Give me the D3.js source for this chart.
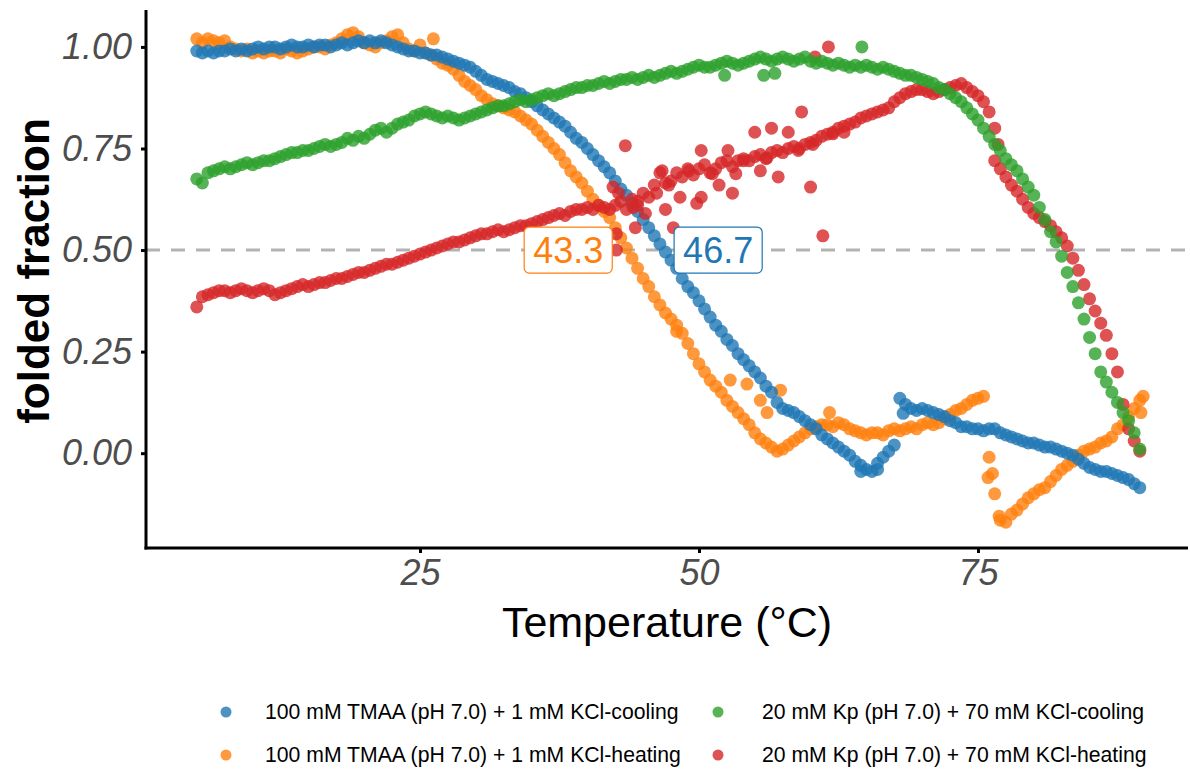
<!DOCTYPE html>
<meta charset="utf-8">
<title>Folded fraction vs temperature</title>
<style>
body { margin: 0; background: #fff; }
text { font-family: "Liberation Sans", Arial, sans-serif; }
.axis .domain { display: none; }
.axis line { stroke: #000; stroke-width: 3px; }
.axis text { fill: #4d4d4d; font-style: italic; font-size: 36px; }
.frame { stroke: #000; stroke-width: 3px; }
</style>
<script src="https://d3js.org/d3.v7.min.js"></script>
<body>
<script>
var width = 1190;
var height = 773;

// temperatures (°C), one reading every 0.5 degree
var temps = [
  5,5.5,6,6.5,7,7.5,8,8.5,9,9.5,
  10,10.5,11,11.5,12,12.5,13,13.5,14,14.5,
  15,15.5,16,16.5,17,17.5,18,18.5,19,19.5,
  20,20.5,21,21.5,22,22.5,23,23.5,24,24.5,
  25,25.5,26,26.5,27,27.5,28,28.5,29,29.5,
  30,30.5,31,31.5,32,32.5,33,33.5,34,34.5,
  35,35.5,36,36.5,37,37.5,38,38.5,39,39.5,
  40,40.5,41,41.5,42,42.5,43,43.5,44,44.5,
  45,45.5,46,46.5,47,47.5,48,48.5,49,49.5,
  50,50.5,51,51.5,52,52.5,53,53.5,54,54.5,
  55,55.5,56,56.5,57,57.5,58,58.5,59,59.5,
  60,60.5,61,61.5,62,62.5,63,63.5,64,64.5,
  65,65.5,66,66.5,67,67.5,68,68.5,69,69.5,
  70,70.5,71,71.5,72,72.5,73,73.5,74,74.5,
  75,75.5,76,76.5,77,77.5,78,78.5,79,79.5,
  80,80.5,81,81.5,82,82.5,83,83.5,84,84.5,
  85,85.5,86,86.5,87,87.5,88,88.5,89,89.5
];

// folded fraction, 100 mM TMAA + 1 mM KCl, cooling
var tmaaCooling = [
  0.99,0.985,0.99,0.985,0.99,0.99,0.995,0.99,0.995,0.99,
  0.995,1.0,0.995,1.0,1.0,0.995,1.0,1.005,1.0,1.0,
  1.005,1.0,1.005,1.005,1.0,1.005,1.01,1.005,1.01,1.015,
  1.01,1.015,1.01,1.015,1.01,1.005,1.0,0.995,0.99,0.99,
  0.985,0.985,0.98,0.98,0.975,0.97,0.965,0.96,0.955,0.95,
  0.94,0.93,0.92,0.915,0.91,0.905,0.9,0.89,0.885,0.875,
  0.865,0.855,0.845,0.835,0.825,0.815,0.805,0.79,0.775,0.765,
  0.75,0.735,0.72,0.705,0.69,0.67,0.65,0.635,0.615,0.595,
  0.575,0.555,0.535,0.515,0.495,0.475,0.455,0.43,0.41,0.395,
  0.375,0.355,0.335,0.315,0.3,0.28,0.265,0.245,0.23,0.215,
  0.2,0.185,0.165,0.15,0.125,0.11,0.105,0.1,0.09,0.08,
  0.07,0.06,0.045,0.035,0.025,0.015,0.005,-0.005,-0.02,-0.03,
  -0.04,-0.045,-0.025,-0.01,0.005,0.02,0.135,0.12,0.11,0.105,
  0.11,0.105,0.1,0.095,0.09,0.08,0.075,0.065,0.065,0.06,
  0.06,0.055,0.06,0.06,0.05,0.045,0.04,0.035,0.03,0.025,
  0.025,0.02,0.015,0.015,0.01,0.005,0.0,-0.005,-0.015,-0.025,
  -0.035,-0.04,-0.045,-0.045,-0.05,-0.055,-0.06,-0.065,-0.075,-0.085
];

// folded fraction, 100 mM TMAA + 1 mM KCl, heating
var tmaaHeating = [
  1.02,1.01,1.02,1.015,1.01,1.015,1.0,0.995,0.99,0.995,
  0.985,0.99,0.985,0.99,0.99,0.985,0.995,0.99,0.985,0.99,
  0.995,1.0,1.0,0.995,1.005,1.01,1.02,1.03,1.035,1.025,
  1.01,1.005,1.0,1.01,1.015,1.025,1.03,1.01,0.995,0.99,
  1.005,0.985,0.98,0.97,0.96,0.955,0.945,0.93,0.915,0.905,
  0.895,0.88,0.87,0.86,0.855,0.85,0.845,0.84,0.83,0.82,
  0.81,0.795,0.78,0.765,0.75,0.735,0.715,0.695,0.68,0.665,
  0.645,0.625,0.61,0.595,0.58,0.555,0.53,0.505,0.48,0.455,
  0.43,0.41,0.385,0.365,0.345,0.33,0.315,0.295,0.27,0.245,
  0.22,0.2,0.18,0.165,0.15,0.13,0.115,0.1,0.085,0.07,
  0.05,0.035,0.025,0.015,0.005,0.01,0.02,0.03,0.04,0.05,
  0.06,0.065,0.07,0.07,0.065,0.075,0.07,0.06,0.055,0.05,
  0.045,0.05,0.05,0.045,0.055,0.06,0.055,0.06,0.065,0.06,
  0.07,0.075,0.07,0.075,0.085,0.095,0.105,0.11,0.12,0.13,
  0.135,0.14,-0.01,-0.1,-0.165,-0.17,-0.15,-0.14,-0.125,-0.11,
  -0.1,-0.09,-0.085,-0.07,-0.055,-0.04,-0.03,-0.02,-0.005,0.005,
  0.01,0.015,0.025,0.03,0.04,0.06,0.07,0.09,0.11,0.13
];

// folded fraction, 20 mM Kp + 70 mM KCl, cooling
var kpCooling = [
  0.675,0.665,0.69,0.695,0.7,0.705,0.7,0.705,0.71,0.715,
  0.71,0.715,0.72,0.72,0.725,0.73,0.735,0.74,0.74,0.745,
  0.745,0.75,0.755,0.76,0.755,0.76,0.765,0.775,0.77,0.78,
  0.775,0.785,0.795,0.8,0.79,0.8,0.81,0.815,0.82,0.83,
  0.835,0.84,0.835,0.83,0.825,0.83,0.825,0.82,0.825,0.83,
  0.835,0.84,0.845,0.85,0.855,0.855,0.86,0.865,0.87,0.865,
  0.87,0.875,0.88,0.885,0.88,0.885,0.89,0.895,0.9,0.9,
  0.905,0.905,0.91,0.915,0.91,0.915,0.92,0.92,0.925,0.92,
  0.925,0.93,0.925,0.93,0.935,0.94,0.935,0.94,0.945,0.95,
  0.955,0.95,0.95,0.955,0.96,0.965,0.96,0.955,0.96,0.965,
  0.97,0.975,0.97,0.965,0.97,0.975,0.97,0.965,0.97,0.975,
  0.965,0.96,0.965,0.96,0.955,0.96,0.955,0.95,0.955,0.95,
  0.955,0.95,0.945,0.95,0.945,0.94,0.935,0.93,0.93,0.925,
  0.92,0.915,0.91,0.9,0.895,0.885,0.875,0.865,0.85,0.835,
  0.82,0.8,0.78,0.76,0.745,0.725,0.71,0.695,0.675,0.655,
  0.635,0.605,0.575,0.545,0.52,0.485,0.445,0.41,0.37,0.33,
  0.285,0.245,0.2,0.175,0.15,0.125,0.1,0.08,0.05,0.01
];

// folded fraction, 20 mM Kp + 70 mM KCl, heating
var kpHeating = [
  0.36,0.385,0.39,0.395,0.4,0.4,0.395,0.4,0.405,0.4,
  0.395,0.4,0.405,0.4,0.39,0.395,0.4,0.405,0.41,0.415,
  0.41,0.415,0.42,0.42,0.425,0.43,0.43,0.435,0.44,0.445,
  0.445,0.45,0.455,0.46,0.465,0.465,0.47,0.475,0.48,0.485,
  0.49,0.495,0.5,0.505,0.51,0.515,0.52,0.52,0.525,0.53,
  0.535,0.54,0.54,0.545,0.55,0.545,0.55,0.555,0.56,0.56,
  0.565,0.57,0.575,0.58,0.585,0.59,0.585,0.595,0.6,0.6,
  0.605,0.6,0.61,0.605,0.6,0.61,0.62,0.6,0.625,0.61,
  0.64,0.63,0.66,0.69,0.665,0.67,0.69,0.68,0.7,0.685,
  0.7,0.71,0.69,0.7,0.715,0.72,0.705,0.72,0.725,0.72,
  0.73,0.735,0.725,0.74,0.745,0.74,0.75,0.755,0.75,0.76,
  0.765,0.77,0.78,0.785,0.79,0.8,0.805,0.81,0.815,0.825,
  0.83,0.835,0.84,0.845,0.85,0.865,0.875,0.885,0.89,0.895,
  0.895,0.89,0.885,0.89,0.895,0.9,0.905,0.91,0.9,0.89,
  0.88,0.865,0.84,0.72,0.7,0.68,0.66,0.645,0.625,0.605,
  0.59,0.58,0.57,0.56,0.545,0.53,0.51,0.48,0.45,0.415,
  0.38,0.35,0.32,0.29,0.245,0.2,0.12,0.06,0.03,0.005
];

// extra scattered readings [temperature, fraction]
var tmaaCoolingExtra = [[64.5,-0.045],[68.3,0.098],[66.0,-0.04]];
var tmaaHeatingExtra = [[26.2,1.02],[48.0,0.3],[52.8,0.18],[54.3,0.17],[55.5,0.13],[56.1,0.1],
  [57.3,0.155],[61.7,0.1],[75.9,-0.06],[76.3,-0.05],[76.9,-0.155],[89.8,0.14],[89.6,0.1]];
var kpCoolingExtra = [[64.6,1.0],[55.8,0.93],[56.8,0.935],[52.3,0.93]];
var kpHeatingExtra = [[42.3,0.655],[42.6,0.54],[42.6,0.5],[43.4,0.757],[42.8,0.64],[44.1,0.605],
  [44.3,0.555],[44.5,0.62],[45.2,0.59],[46.2,0.64],[46.7,0.695],[47.0,0.6],[47.3,0.66],
  [47.7,0.555],[48.3,0.63],[49.1,0.695],[49.8,0.615],[50.2,0.745],[50.2,0.63],[51.2,0.688],
  [51.8,0.66],[52.6,0.745],[53.0,0.64],[53.3,0.688],[54.0,0.72],[55.0,0.79],[55.5,0.695],
  [56.1,0.727],[56.5,0.8],[57.1,0.68],[58.0,0.79],[58.9,0.745],[59.2,0.84],[60.0,0.655],
  [60.2,0.76],[60.4,0.975],[61.1,0.535],[61.6,1.0],[62.0,0.786],[63.0,0.79],[76.5,0.8],[76.8,0.76]];

var seriesNames = [
  "100 mM TMAA (pH 7.0) + 1 mM KCl-cooling",
  "100 mM TMAA (pH 7.0) + 1 mM KCl-heating",
  "20 mM Kp (pH 7.0) + 70 mM KCl-cooling",
  "20 mM Kp (pH 7.0) + 70 mM KCl-heating"
];
var seriesColors = ["#1f77b4", "#ff7f0e", "#2ca02c", "#d62728"];
var seriesValues = [tmaaCooling, tmaaHeating, kpCooling, kpHeating];
var seriesExtra = [tmaaCoolingExtra, tmaaHeatingExtra, kpCoolingExtra, kpHeatingExtra];

// melting temperatures (folded fraction = 0.5), TMAA heating and cooling
var meltTemps = [43.3, 46.7];
var meltSeries = [1, 0];

var xTicks = [25, 50, 75];
var yTicks = [0, 0.25, 0.5, 0.75, 1];

var svg = d3.select("body").append("svg")
    .attr("width", width)
    .attr("height", height);

var x = d3.scaleLinear().domain([0.45, 93.82]).range([146, 1188]);
var y = d3.scaleLinear().domain([-0.2334, 1.0909]).range([548, 10]);

// reference line at half folded
svg.append("line")
    .attr("x1", x.range()[0]).attr("x2", x.range()[1])
    .attr("y1", y(0.5)).attr("y2", y(0.5))
    .attr("stroke", "#b3b3b3")
    .attr("stroke-width", 3)
    .attr("stroke-dasharray", "14,11");

// points: drawn orange, blue, red, green so the overlaps look like the figure
var drawOrder = [1, 0, 3, 2];
drawOrder.forEach(function(s) {
  var pts = temps.map(function(t, i) { return [t, seriesValues[s][i]]; })
      .concat(seriesExtra[s]);
  svg.append("g").selectAll("circle")
      .data(pts)
    .enter().append("circle")
      .attr("cx", function(d) { return x(d[0]); })
      .attr("cy", function(d) { return y(d[1]); })
      .attr("r", 6.5)
      .attr("fill", seriesColors[s])
      .attr("fill-opacity", 0.8);
});

// axes
var gx = svg.append("g")
    .attr("class", "axis")
    .attr("transform", "translate(0," + y.range()[0] + ")")
    .call(d3.axisBottom(x).tickValues(xTicks).tickSize(5).tickPadding(6).tickFormat(d3.format("d")));
var gy = svg.append("g")
    .attr("class", "axis")
    .attr("transform", "translate(" + x.range()[0] + ",0)")
    .call(d3.axisLeft(y).tickValues(yTicks).tickSize(5).tickPadding(9).tickFormat(d3.format(".2f")));

svg.append("line").attr("class", "frame")
    .attr("x1", x.range()[0]).attr("x2", x.range()[0])
    .attr("y1", y.range()[1]).attr("y2", y.range()[0] + 1.5);
svg.append("line").attr("class", "frame")
    .attr("x1", x.range()[0] - 1.5).attr("x2", x.range()[1])
    .attr("y1", y.range()[0]).attr("y2", y.range()[0]);

svg.append("text")
    .attr("x", (x.range()[0] + x.range()[1]) / 2)
    .attr("y", 637)
    .attr("text-anchor", "middle")
    .attr("font-size", 43)
    .attr("fill", "#000")
    .text("Temperature (°C)");

svg.append("text")
    .attr("transform", "translate(49," + ((y.range()[0] + y.range()[1]) / 2 - 8) + ") rotate(-90)")
    .attr("text-anchor", "middle")
    .attr("font-size", 44)
    .attr("font-weight", "bold")
    .attr("fill", "#000")
    .text("folded fraction");

// melting temperature labels
meltTemps.forEach(function(t, i) {
  var s = meltSeries[i];
  var cx = x(t) + (i === 0 ? -56 : 56);
  var g = svg.append("g").attr("transform", "translate(" + cx + "," + y(0.5) + ")");
  var rect = g.append("rect");
  var label = g.append("text")
      .attr("text-anchor", "middle")
      .attr("dy", "0.36em")
      .attr("font-size", 36)
      .attr("fill", seriesColors[s])
      .text(d3.format(".1f")(t));
  var bb = label.node().getBBox();
  var w = bb.width + 18, h = 46;
  rect.attr("x", -w / 2).attr("y", -h / 2)
      .attr("width", w).attr("height", h)
      .attr("rx", 5)
      .attr("fill", "#fff")
      .attr("stroke", seriesColors[s])
      .attr("stroke-width", 1.2);
});

// legend, two columns
var legendX = [226, 718];
var legendY = [712, 755];
seriesNames.forEach(function(name, i) {
  var col = Math.floor(i / 2), row = i % 2;
  var g = svg.append("g")
      .attr("transform", "translate(" + legendX[col] + "," + legendY[row] + ")");
  g.append("circle")
      .attr("r", 5.5)
      .attr("fill", seriesColors[i])
      .attr("fill-opacity", 0.8);
  g.append("text")
      .attr("x", 39 + col * 5)
      .attr("dy", "0.35em")
      .attr("font-size", 21.2)
      .attr("fill", "#000")
      .text(name);
});
</script>
